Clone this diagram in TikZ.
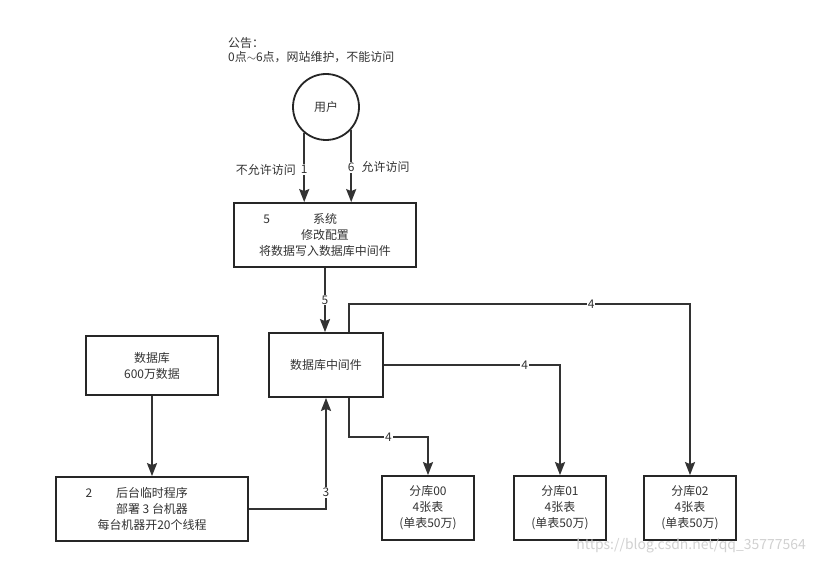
\documentclass[tikz,border=0pt]{standalone}
\usepackage{fontspec}
\setmainfont{Noto Sans CJK SC}
\usetikzlibrary{arrows.meta}

\begin{document}
\begin{tikzpicture}[x=1bp, y=-1bp,
    box/.style={draw=black!85, line width=1.8bp, align=center, text=black!80,
        font=\fontsize{12}{16}\selectfont, inner sep=0pt},
    arr/.style={draw=black!80, line width=1.9bp, -{Stealth[length=13bp, width=10bp, inset=2bp]}},
    lbl/.style={fill=white, inner sep=1pt, text=black!80, font=\fontsize{12}{14}\selectfont},
    txt/.style={text=black!80, font=\fontsize{12}{14}\selectfont, align=left, inner sep=0pt}]
            \useasboundingbox[fill=white] (0, 0) rectangle (813, 564);
            \node[txt, anchor=north west] (notice) at (228, 37) {公告：\\0点$\sim$6点，网站维护，不能访问};
            \node[box, circle, minimum size=66bp] (user) at (326, 107) {用户};
            \node[box, minimum width=182bp, minimum height=64bp] (sys) at (325, 235)
                {\llap{5\hspace{43bp}}系统\\修改配置\\将数据写入数据库中间件};
            \node[box, minimum width=114bp, minimum height=64bp] (mid) at (326, 365) {数据库中间件};
            \node[box, minimum width=132bp, minimum height=59bp] (db) at (152, 365.5) {数据库\\600万数据};
            \node[box, minimum width=192bp, minimum height=64bp] (back) at (152, 509)
                {\llap{2\hspace{24bp}}后台临时程序\\部署 3 台机器\\每台机器开20个线程};
            \node[box, minimum width=92bp, minimum height=64bp] (s00) at (428, 508) {分库00\\4张表\\(单表50万)};
            \node[box, minimum width=92bp, minimum height=64bp] (s01) at (560, 508) {分库01\\4张表\\(单表50万)};
            \node[box, minimum width=92bp, minimum height=64bp] (s02) at (690, 508) {分库02\\4张表\\(单表50万)};

            \draw[arr] (user.230.5) -- node[lbl, pos=0.53] (one) {1} (user.230.5 |- sys.north);
            \draw[arr] (user.318) -- node[lbl, pos=0.52] (six) {6} (user.318 |- sys.north);
            \node[txt, anchor=east] (deny) at ([xshift=-3bp]one.west) {不允许访问};
            \node[txt, anchor=west] (allow) at ([xshift=5bp]six.east) {允许访问};

            \draw[arr] (sys.south) -- node[lbl, pos=0.5] {5} (sys.south |- mid.north);
            \draw[arr] (db.south) -- (db.south |- back.north);
            \draw[arr] (back.east) -| node[lbl, pos=0.575] {3} (mid.south);

            \draw[arr] ([xshift=23bp]mid.south) -- ++(0, 39) -| node[lbl, pos=0.25] {4} (s00.north);
            \draw[arr] (mid.east) -| node[lbl, pos=0.4] {4} (s01.north);
            \draw[arr] ([xshift=23bp]mid.north) -- ++(0, -28) -| node[lbl, pos=0.355] {4} (s02.north);

            \node[text=black!18, font=\fontsize{14}{16}\selectfont, anchor=east, inner sep=0pt] (mark) at (806, 546)
                {https://blog.csdn.net/qq\_35777564};
\end{tikzpicture}
\end{document}
